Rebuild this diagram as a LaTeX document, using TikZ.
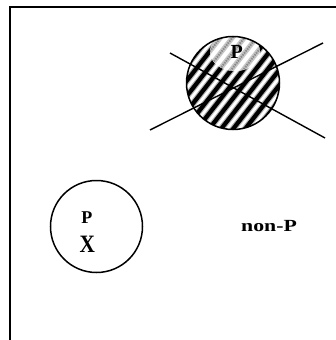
\documentclass[tikz,border=0pt]{standalone}
\usepackage{fontspec}
\setmainfont{Liberation Serif}
\begin{document}
\begin{tikzpicture}[x={(1pt,0)},y={(0,-1pt)},
  ring/.style={circle,draw=black,line width=1.5pt,inner sep=0pt,minimum size=#1},
  lab/.style={font=\bfseries\fontsize{18}{18}\selectfont,inner sep=0pt},
  stripe/.style={line width=4.2pt,black},
  halo/.style={line width=6.5pt,black!30},
  crossline/.style={line width=1.4pt,black}]
\useasboundingbox (0,0) rectangle (336,340);
% frame
\draw[line width=2pt] (10,340) -- (10,7) -- (336,7);
% hatched circle
\begin{scope}
  \clip (233,83) circle (46.5);
  \foreach \c in {-8,...,8}{
    \draw[halo] (233+\c*12-0.616*80,83+0.788*80) -- (233+\c*12+0.616*80,83-0.788*80);
  }
  \foreach \c in {-8,...,8}{
    \draw[stripe] (233+\c*12-0.616*80,83+0.788*80) -- (233+\c*12+0.616*80,83-0.788*80);
  }
  \begin{scope}
    \clip (235,52) ellipse (25 and 19);
    \fill[white] (200,20) rectangle (280,90);
    \foreach \c in {-8,...,8}{
      \draw[line width=5pt,black!22] (233+\c*12-0.616*80,83+0.788*80) -- (233+\c*12+0.616*80,83-0.788*80);
      \draw[line width=2pt,black!45,dash pattern=on 1.5pt off 1pt] (233+\c*12-0.616*80,83+0.788*80) -- (233+\c*12+0.616*80,83-0.788*80);
    }
  \end{scope}
\end{scope}
\node[ring=93pt] (big) at (233,83) {};
\node[lab,font=\bfseries\fontsize{20}{20}\selectfont] (pbig) at (236.7,52.3) {P};
% crossing lines
\coordinate (a1) at (170,53);
\coordinate (a2) at (325,138);
\coordinate (b1) at (150,130);
\coordinate (b2) at (323,43);
\draw[crossline] (a1) -- (a2);
\draw[crossline] (b1) -- (b2);
% small circle
\node[ring=92pt] (small) at (96.5,226.5) {};
\node[lab] (p) at (86.8,218) {P};
\node[lab,font=\bfseries\fontsize{25}{25}\selectfont] (x) at (87.3,244.7) {\scalebox{0.85}[1]{X}};
\node[lab,font=\bfseries\fontsize{17}{17}\selectfont] (nonp) at (269,226) {\scalebox{1.28}[1]{non-P}};
\end{tikzpicture}
\end{document}
